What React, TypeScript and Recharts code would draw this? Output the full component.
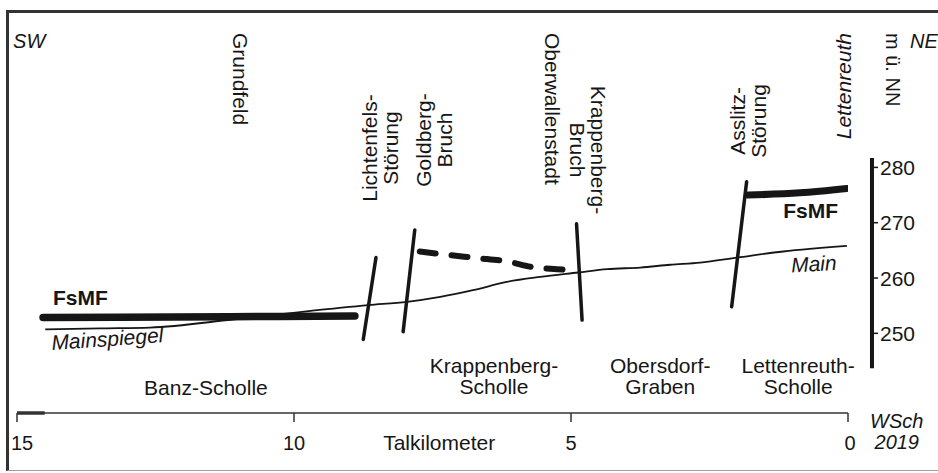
import React from 'react'
import {
  ComposedChart,
  Line,
  XAxis,
  YAxis,
  ReferenceLine,
  ReferenceDot,
} from 'recharts'

const kmTicks = [0, 5, 10, 15]
const levelTicks = [250, 260, 270, 280]

// Mainspiegel / Main
const mainKm = [14.49, 13.5, 12.6, 11.11, 9.89, 8.66, 7.96, 7.36, 6.77, 6.16, 5.56, 4.87, 4.35, 3.75, 3.21, 2.67, 2.0, 1.17, 0.02]
const mainLevel = [250.7, 250.9, 251.05, 252.5, 253.85, 255.1, 255.7, 256.6, 257.8, 259.3, 260.2, 261.0, 261.6, 261.9, 262.4, 262.8, 263.7, 264.8, 265.8]

// FsMF (Banz-Scholle, Krappenberg-Scholle dashed, Lettenreuth-Scholle)
const fsmfWestKm = [14.53, 11.16, 8.9]
const fsmfWestLevel = [252.85, 253.0, 253.15]
const fsmfMidKm = [7.73, 7.24, 6.68, 6.16, 5.7, 5.25, 4.93]
const fsmfMidLevel = [264.8, 264.2, 263.6, 263.0, 262.0, 261.6, 261.45]
const fsmfEastKm = [1.8, 0.87, 0.02]
const fsmfEastLevel = [275.0, 275.4, 276.2]

// faults: top and bottom end
const lichtenfelsKm = [8.52, 8.75]
const lichtenfelsLevel = [263.7, 248.9]
const goldbergKm = [7.82, 8.03]
const goldbergLevel = [268.7, 250.3]
const krappenbergKm = [4.9, 4.8]
const krappenbergLevel = [269.8, 252.4]
const asslitzKm = [1.83, 2.1]
const asslitzLevel = [277.4, 254.8]

const kmDomain = [0, 15]
const levelDomain = [235.6, 281.7]
const levelAxisKm = -0.433
const levelAxisRange = [243.7, 281.7]

const FONT = '"Liberation Sans", Arial, Helvetica, sans-serif'
const INK = '#161616'

const toPoints = (km: number[], level: number[]) =>
  km.map((k, i) => ({ km: k, level: level[i] }))

const mainData = toPoints(mainKm, mainLevel)
const fsmfWest = toPoints(fsmfWestKm, fsmfWestLevel)
const fsmfMid = toPoints(fsmfMidKm, fsmfMidLevel)
const fsmfEast = toPoints(fsmfEastKm, fsmfEastLevel)
const faults = [
  toPoints(lichtenfelsKm, lichtenfelsLevel),
  toPoints(goldbergKm, goldbergLevel),
  toPoints(krappenbergKm, krappenbergLevel),
  toPoints(asslitzKm, asslitzLevel),
]

interface Note {
  km: number
  level: number
  lines: string[]
  rotate?: number
  anchor?: 'start' | 'middle' | 'end'
  italic?: boolean
  bold?: boolean
  central?: boolean
  size?: number
  lh?: number
}

// text placed at section positions
const notes: Note[] = [
  { km: 15.07, level: 301.6, lines: ['SW'], italic: true, size: 20 },
  { km: -1.12, level: 301.6, lines: ['NE'], italic: true, size: 20 },
  { km: 10.97, level: 304.3, lines: ['Grundfeld'], rotate: 90, central: true },
  { km: 8.63, level: 283.5, lines: ['Lichtenfels-', 'Störung'], rotate: -90, anchor: 'middle', central: true },
  { km: 7.67, level: 284.95, lines: ['Goldberg-', 'Bruch'], rotate: -90, anchor: 'middle', central: true },
  { km: 5.34, level: 304.3, lines: ['Oberwallenstadt'], rotate: 90, central: true },
  { km: 4.51, level: 283.15, lines: ['Krappenberg-', 'Bruch'], rotate: 90, anchor: 'middle', central: true },
  { km: 1.99, level: 288.4, lines: ['Asslitz-', 'Störung'], rotate: -90, anchor: 'middle', central: true },
  { km: 0.09, level: 304.3, lines: ['Lettenreuth'], rotate: -90, anchor: 'end', italic: true, central: true },
  { km: -0.81, level: 304.3, lines: ['m ü. NN'], rotate: 90, central: true, size: 20 },
  { km: 14.35, level: 255.1, lines: ['FsMF'], bold: true },
  { km: 1.17, level: 270.85, lines: ['FsMF'], bold: true },
  { km: 14.37, level: 246.98, lines: ['Mainspiegel'], rotate: -4, italic: true },
  { km: 0.2, level: 261.45, lines: ['Main'], rotate: -3, italic: true, anchor: 'end' },
  { km: 11.59, level: 238.84, lines: ['Banz-Scholle'], anchor: 'middle' },
  { km: 6.39, level: 242.82, lines: ['Krappenberg-', 'Scholle'], anchor: 'middle' },
  { km: 3.39, level: 242.82, lines: ['Obersdorf-', 'Graben'], anchor: 'middle' },
  { km: 0.9, level: 242.82, lines: ['Lettenreuth-', 'Scholle'], anchor: 'middle' },
  { km: -0.88, level: 232.88, lines: ['WSch', '2019'], anchor: 'middle', italic: true, size: 20 },
  { km: 7.38, level: 228.9, lines: ['Talkilometer'], anchor: 'middle' },
]

function NoteShape({ cx, cy, note }: any) {
  const { lines, rotate = 0, anchor = 'start', italic, bold, central, size = 21, lh = 21 } = note as Note
  return (
    <g transform={`translate(${cx},${cy}) rotate(${rotate})`}>
      {lines.map((t, i) => (
        <text
          key={i}
          x={0}
          y={i * lh}
          textAnchor={anchor}
          dominantBaseline={central ? 'central' : 'auto'}
          fontFamily={FONT}
          fontSize={size}
          fontStyle={italic ? 'italic' : 'normal'}
          fontWeight={bold ? 700 : 400}
          fill={INK}
        >
          {t}
        </text>
      ))}
    </g>
  )
}

function KmTick({ x, y, payload }: any) {
  const shift = payload.value === 15 ? 5 : payload.value === 0 ? 2 : 0
  return (
    <text x={x + shift} y={y + 15} textAnchor="middle" fontFamily={FONT} fontSize={20} fill={INK}>
      {payload.value}
    </text>
  )
}

function LevelTick({ x, y, payload }: any) {
  return (
    <g>
      <line x1={x + 24} x2={x + 30} y1={y} y2={y} stroke={INK} strokeWidth={1.5} />
      <text x={x + 32} y={y} dominantBaseline="central" fontFamily={FONT} fontSize={21} fill={INK}>
        {payload.value}
      </text>
    </g>
  )
}

export default function App() {
  return (
    <div style={{ position: 'absolute', left: 0, top: 0, width: 938, height: 473, overflow: 'hidden', background: '#fff' }}>
      <div
        style={{
          position: 'absolute',
          left: 6,
          top: 10,
          width: 950,
          height: 461,
          boxSizing: 'border-box',
          borderTop: '3px solid #333',
          borderLeft: '3px solid #333',
          borderBottom: '1px solid #a0a0a0',
        }}
      />
      <div style={{ position: 'absolute', left: 0, top: 0 }}>
        <ComposedChart width={938} height={473} margin={{ top: 158, right: 0, bottom: 0, left: 17 }}>
          <XAxis
            dataKey="km"
            type="number"
            domain={kmDomain}
            reversed
            ticks={kmTicks}
            allowDataOverflow
            axisLine={{ stroke: '#333', strokeWidth: 1.5 }}
            tickLine={{ stroke: '#333', strokeWidth: 1.5 }}
            tickSize={9}
            tickMargin={13}
            tick={<KmTick />}
            height={60}
          />
          <YAxis
            dataKey="level"
            type="number"
            orientation="right"
            domain={levelDomain}
            ticks={levelTicks}
            allowDataOverflow
            axisLine={false}
            tickLine={false}
            tickSize={0}
            tickMargin={0}
            tick={<LevelTick />}
            width={90}
          />
          <ReferenceLine
            segment={[
              { x: levelAxisKm, y: levelAxisRange[0] },
              { x: levelAxisKm, y: levelAxisRange[1] },
            ]}
            stroke={INK}
            strokeWidth={4}
            ifOverflow="visible"
          />
          <ReferenceLine
            segment={[
              { x: 15, y: levelDomain[0] },
              { x: 14.5, y: levelDomain[0] },
            ]}
            stroke="#333"
            strokeWidth={3.5}
            ifOverflow="visible"
          />
          <Line data={mainData} dataKey="level" type="monotone" stroke={INK} strokeWidth={1.8} dot={false} activeDot={false} isAnimationActive={false} />
          <Line data={fsmfWest} dataKey="level" type="monotone" stroke={INK} strokeWidth={7.5} strokeLinecap="round" dot={false} activeDot={false} isAnimationActive={false} />
          <Line data={fsmfMid} dataKey="level" type="monotone" stroke={INK} strokeWidth={6} strokeLinecap="round" strokeDasharray="16 16" dot={false} activeDot={false} isAnimationActive={false} />
          <Line data={fsmfEast} dataKey="level" type="monotone" stroke={INK} strokeWidth={7} strokeLinecap="round" dot={false} activeDot={false} isAnimationActive={false} />
          {faults.map((f, i) => (
            <Line key={i} data={f} dataKey="level" type="linear" stroke={INK} strokeWidth={3.5} strokeLinecap="round" dot={false} activeDot={false} isAnimationActive={false} />
          ))}
          {notes.map((n, i) => (
            <ReferenceDot
              key={`note-${i}`}
              x={n.km}
              y={n.level}
              r={0}
              ifOverflow="visible"
              shape={(p: any) => <NoteShape cx={p.cx} cy={p.cy} note={n} />}
            />
          ))}
        </ComposedChart>
      </div>
    </div>
  )
}
